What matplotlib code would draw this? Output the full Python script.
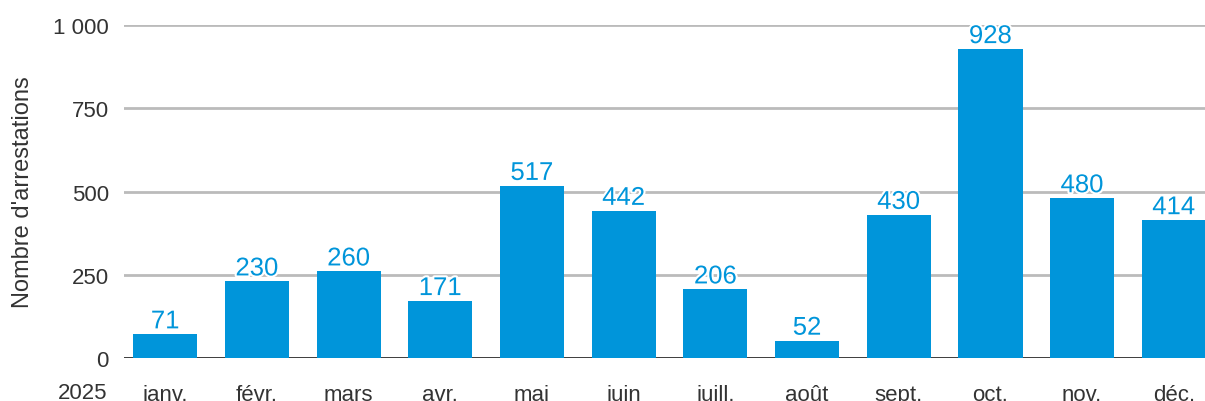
import numpy as np
import matplotlib.pyplot as plt
import matplotlib.patheffects as pe
from matplotlib.ticker import FuncFormatter

plt.rcParams['font.family'] = ['Liberation Sans', 'DejaVu Sans']

# data
months = ['janv.', 'févr.', 'mars', 'avr.', 'mai', 'juin', 'juill.', 'août', 'sept.', 'oct.', 'nov.', 'déc.']
arrests = [71, 230, 260, 171, 517, 442, 206, 52, 430, 928, 480, 414]
year_label = '2025'

blue = '#0095DA'
grey_text = '#333333'

fig = plt.figure(figsize=(12.05, 4.02), dpi=100)
ax = fig.add_axes([0.1029, 0.107, 0.8971, 0.828])

x = np.arange(len(months))
ax.bar(x, arrests, width=0.7, color=blue, zorder=3)

for xi, v in zip(x, arrests):
    ax.text(xi, v + 3, str(v), ha='center', va='bottom', fontsize=18.5, color=blue,
            zorder=4, path_effects=[pe.withStroke(linewidth=3, foreground='white')])

ax.set_xlim(-0.45, 11.34)
ax.set_ylim(0, 1000)
ax.set_yticks([0, 250, 500, 750, 1000])
ax.yaxis.set_major_formatter(FuncFormatter(lambda v, p: f'{int(v):,}'.replace(',', ' ')))
ax.set_xticks(x)
ax.set_xticklabels(months)

ax.grid(axis='y', color='#bbbbbb', linewidth=2, zorder=0)
ax.axhline(0, color=grey_text, linewidth=2, zorder=2)
for s in ax.spines.values():
    s.set_visible(False)
ax.tick_params(axis='both', length=0, labelsize=16, colors=grey_text)
ax.tick_params(axis='x', pad=18.5)
ax.tick_params(axis='y', pad=11)

ax.set_ylabel("Nombre d'arrestations", fontsize=17, color=grey_text)
ax.yaxis.set_label_coords(-0.083, 0.5)

ax.text(-0.038, -0.072, year_label, transform=ax.transAxes, ha='center', va='top',
        fontsize=16, color=grey_text)

fig.savefig('out.png', dpi=100)
